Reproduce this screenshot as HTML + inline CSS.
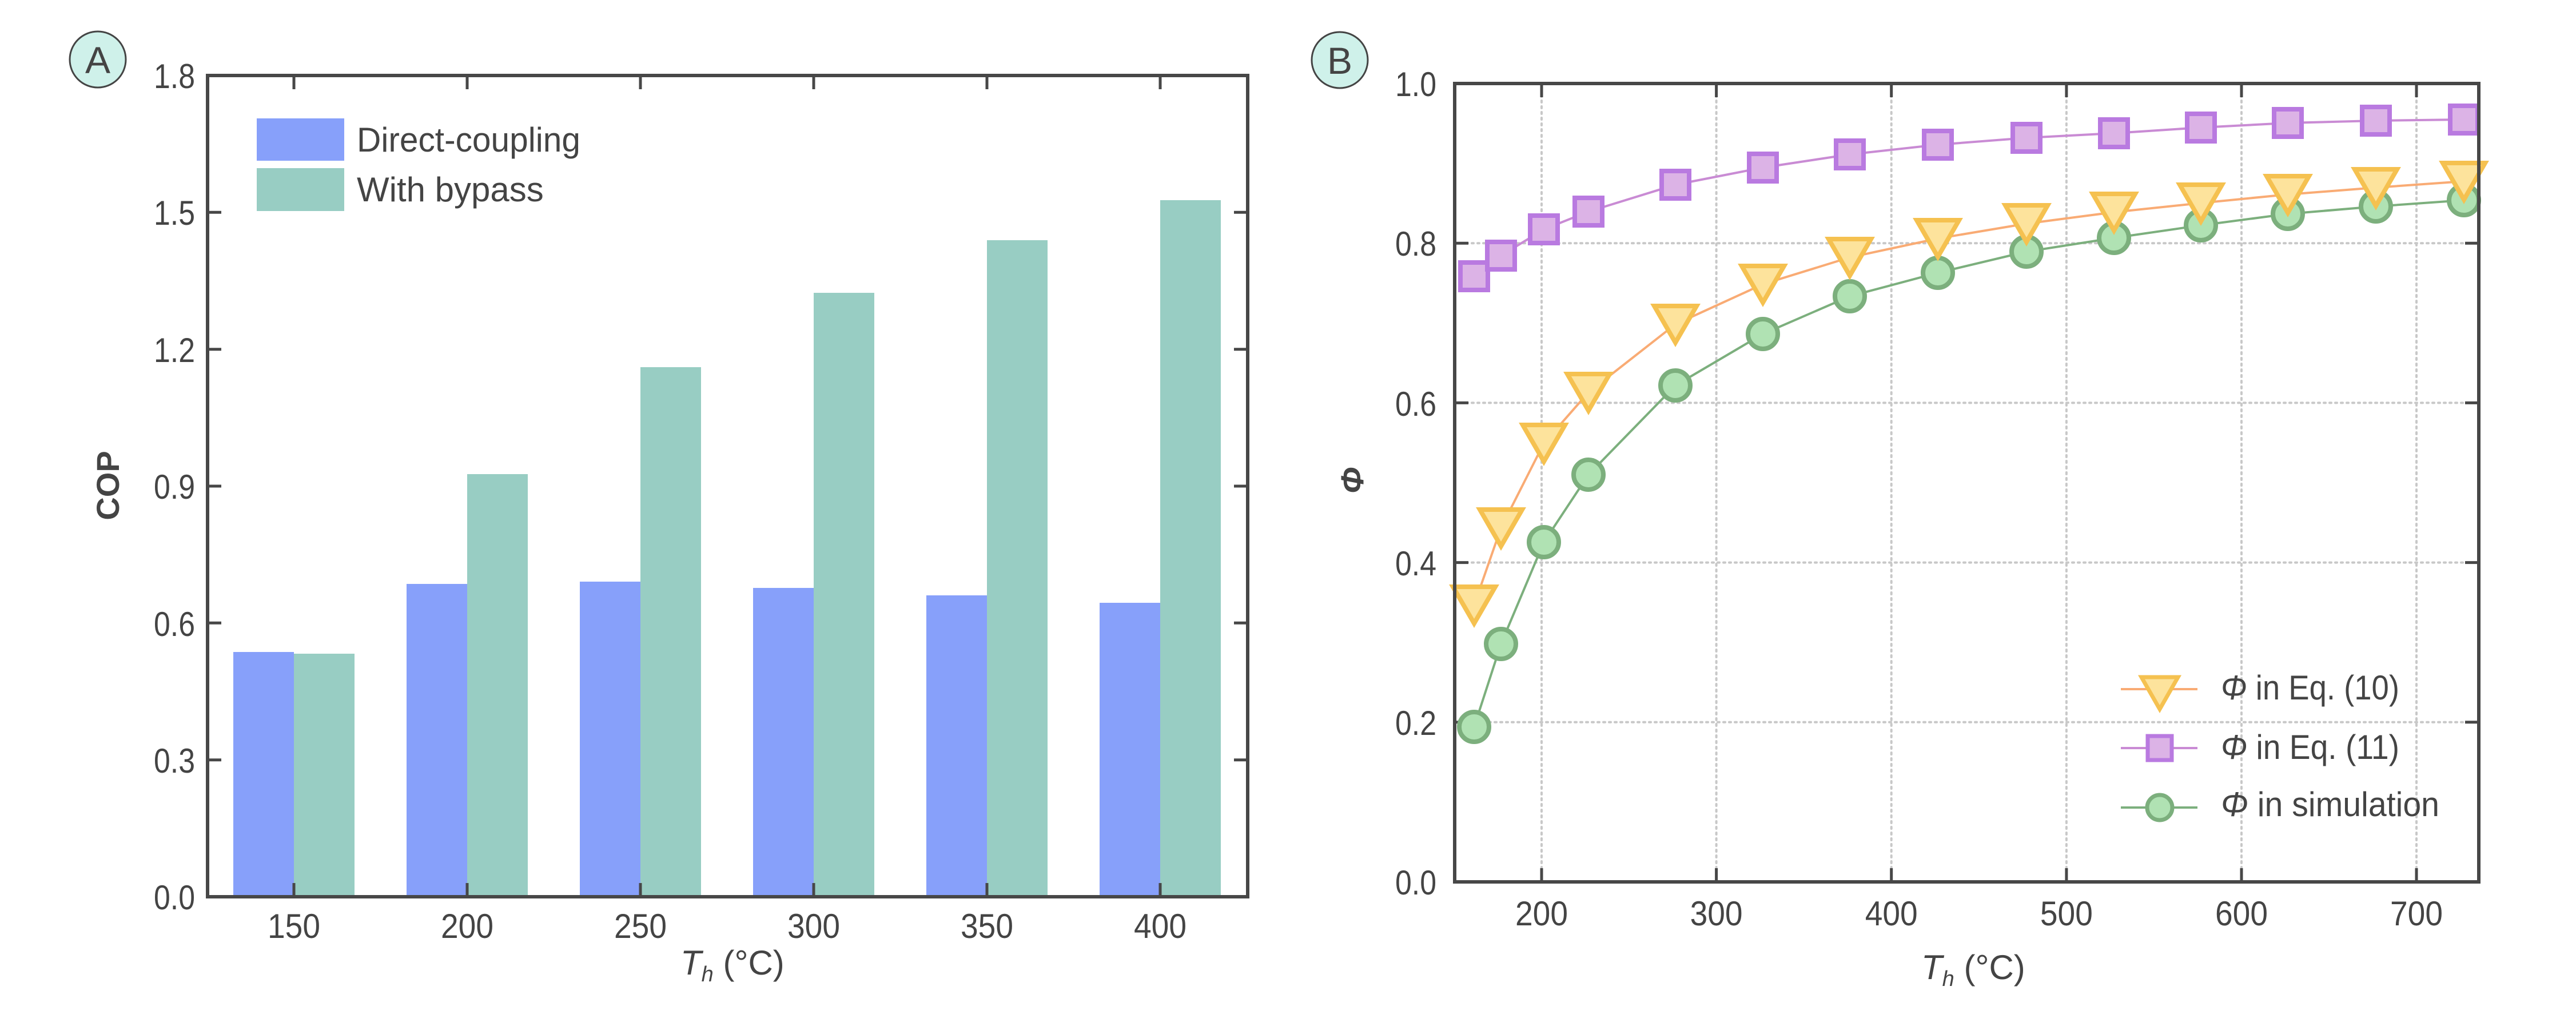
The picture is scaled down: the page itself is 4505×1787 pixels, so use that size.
<!DOCTYPE html>
<html><head><meta charset="utf-8"><style>
html,body{margin:0;padding:0;background:#fff;}
svg{display:block;}
text{font-family:"Liberation Sans",sans-serif;fill:#444;}
</style></head><body>
<svg width="4505" height="1787" viewBox="0 0 4505 1787" xmlns="http://www.w3.org/2000/svg">
<rect width="4505" height="1787" fill="#fff"/>
<!-- Panel A -->
<circle cx="171" cy="104" r="49" fill="#cff1ea" stroke="#444" stroke-width="3"/>
<text x="171" y="128" font-size="66" text-anchor="middle">A</text>
<g>
<rect x="408" y="1140" width="106" height="428" fill="#87a0fa"/>
<rect x="514" y="1143" width="106" height="425" fill="#98cdc3"/>
<rect x="711" y="1021" width="106" height="547" fill="#87a0fa"/>
<rect x="817" y="829" width="106" height="739" fill="#98cdc3"/>
<rect x="1014" y="1017" width="106" height="551" fill="#87a0fa"/>
<rect x="1120" y="642" width="106" height="926" fill="#98cdc3"/>
<rect x="1317" y="1028" width="106" height="540" fill="#87a0fa"/>
<rect x="1423" y="512" width="106" height="1056" fill="#98cdc3"/>
<rect x="1620" y="1041" width="106" height="527" fill="#87a0fa"/>
<rect x="1726" y="420" width="106" height="1148" fill="#98cdc3"/>
<rect x="1923" y="1054" width="106" height="514" fill="#87a0fa"/>
<rect x="2029" y="350" width="106" height="1218" fill="#98cdc3"/>
</g>
<g stroke="#474747" stroke-width="5">
<path d="M514 1568v-24M817 1568v-24M1120 1568v-24M1423 1568v-24M1726 1568v-24M2029 1568v-24"/>
<path d="M514 132v24M817 132v24M1120 132v24M1423 132v24M1726 132v24M2029 132v24"/>
<path d="M363 1328.7h24M363 1089.3h24M363 850h24M363 610.7h24M363 371.3h24"/>
<path d="M2182 1328.7h-24M2182 1089.3h-24M2182 850h-24M2182 610.7h-24M2182 371.3h-24"/>
</g>
<rect x="363" y="132" width="1819" height="1436" fill="none" stroke="#474747" stroke-width="6"/>
<g font-size="60" text-anchor="end">
<text x="341" y="1590" textLength="72" lengthAdjust="spacingAndGlyphs">0.0</text>
<text x="341" y="1351" textLength="72" lengthAdjust="spacingAndGlyphs">0.3</text>
<text x="341" y="1112" textLength="72" lengthAdjust="spacingAndGlyphs">0.6</text>
<text x="341" y="872" textLength="72" lengthAdjust="spacingAndGlyphs">0.9</text>
<text x="341" y="633" textLength="72" lengthAdjust="spacingAndGlyphs">1.2</text>
<text x="341" y="393" textLength="72" lengthAdjust="spacingAndGlyphs">1.5</text>
<text x="341" y="154" textLength="72" lengthAdjust="spacingAndGlyphs">1.8</text>
</g>
<g font-size="60" text-anchor="middle">
<text x="514" y="1640" textLength="92" lengthAdjust="spacingAndGlyphs">150</text>
<text x="817" y="1640" textLength="92" lengthAdjust="spacingAndGlyphs">200</text>
<text x="1120" y="1640" textLength="92" lengthAdjust="spacingAndGlyphs">250</text>
<text x="1423" y="1640" textLength="92" lengthAdjust="spacingAndGlyphs">300</text>
<text x="1726" y="1640" textLength="92" lengthAdjust="spacingAndGlyphs">350</text>
<text x="2029" y="1640" textLength="92" lengthAdjust="spacingAndGlyphs">400</text>
</g>
<text x="1190" y="1704" font-size="60"><tspan font-style="italic">T</tspan><tspan font-style="italic" font-size="38" dy="12">h</tspan><tspan dy="-12"> (°C)</tspan></text>
<text transform="translate(208,849) rotate(-90)" font-size="56" font-weight="bold" text-anchor="middle">COP</text>
<rect x="449" y="207" width="153" height="74" fill="#87a0fa"/>
<rect x="449" y="294" width="153" height="75" fill="#98cdc3"/>
<text x="624" y="265" font-size="60" textLength="391" lengthAdjust="spacingAndGlyphs">Direct-coupling</text>
<text x="624" y="352" font-size="60">With bypass</text>

<!-- Panel B -->
<circle cx="2343" cy="105" r="49" fill="#cff1ea" stroke="#444" stroke-width="3"/>
<text x="2343" y="129" font-size="66" text-anchor="middle">B</text>
<g stroke="#c8c8c8" stroke-width="4" stroke-dasharray="3 7" stroke-linecap="round" fill="none">
<path d="M2696 146V1542M3001.6 146V1542M3307.7 146V1542M3613.9 146V1542M3920 146V1542M4226 146V1542"/>
<path d="M2544 1262.8H4335M2544 983.6H4335M2544 704.4H4335M2544 425.2H4335"/>
</g>
<g stroke="#474747" stroke-width="5">
<path d="M2696 1542v-24M3001.6 1542v-24M3307.7 1542v-24M3613.9 1542v-24M3920 1542v-24M4226 1542v-24"/>
<path d="M2696 146v24M3001.6 146v24M3307.7 146v24M3613.9 146v24M3920 146v24M4226 146v24"/>
<path d="M2544 1262.8h24M2544 983.6h24M2544 704.4h24M2544 425.2h24"/>
<path d="M4335 1262.8h-24M4335 983.6h-24M4335 704.4h-24M4335 425.2h-24"/>
</g>
<polyline fill="none" stroke="#c98bd4" stroke-width="4" points="2578,483 2625,447 2700,401 2778,370 2930,323 3083,293 3235,270 3389,253 3544,241 3697,233 3849,223 4001,215 4155,211 4309,209"/>
<polyline fill="none" stroke="#f9ab74" stroke-width="4" points="2578,1058 2625,923 2700,775 2778,686 2930,567 3083,497 3235,450 3389,417 3544,391 3697,371 3849,355 4001,340 4155,328 4309,317"/>
<polyline fill="none" stroke="#7caf7d" stroke-width="4" points="2578,1271 2625,1126 2700,948 2778,830 2930,674 3083,584 3235,518 3389,477 3544,440 3697,416 3849,394 4001,374 4155,361 4309,350"/>
<g fill="#dcb3e6" stroke="#b97ae0" stroke-width="8">
<rect x="2554" y="459" width="48" height="48"/><rect x="2601" y="423" width="48" height="48"/><rect x="2676" y="377" width="48" height="48"/><rect x="2754" y="346" width="48" height="48"/><rect x="2906" y="299" width="48" height="48"/><rect x="3059" y="269" width="48" height="48"/><rect x="3211" y="246" width="48" height="48"/><rect x="3365" y="229" width="48" height="48"/><rect x="3520" y="217" width="48" height="48"/><rect x="3673" y="209" width="48" height="48"/><rect x="3825" y="199" width="48" height="48"/><rect x="3977" y="191" width="48" height="48"/><rect x="4131" y="187" width="48" height="48"/><rect x="4285" y="185" width="48" height="48"/>
</g>
<g fill="#b0e2b3" stroke="#7caf7d" stroke-width="8">
<circle cx="2578" cy="1271" r="26"/><circle cx="2625" cy="1126" r="26"/><circle cx="2700" cy="948" r="26"/><circle cx="2778" cy="830" r="26"/><circle cx="2930" cy="674" r="26"/><circle cx="3083" cy="584" r="26"/><circle cx="3235" cy="518" r="26"/><circle cx="3389" cy="477" r="26"/><circle cx="3544" cy="440" r="26"/><circle cx="3697" cy="416" r="26"/><circle cx="3849" cy="394" r="26"/><circle cx="4001" cy="374" r="26"/><circle cx="4155" cy="361" r="26"/><circle cx="4309" cy="350" r="26"/>
</g>
<g fill="#fde39c" stroke="#f5c150" stroke-width="8">
<path d="M2541 1026h74l-37 64z"/><path d="M2588 891h74l-37 64z"/><path d="M2663 743h74l-37 64z"/><path d="M2741 654h74l-37 64z"/><path d="M2893 535h74l-37 64z"/><path d="M3046 465h74l-37 64z"/><path d="M3198 418h74l-37 64z"/><path d="M3352 385h74l-37 64z"/><path d="M3507 359h74l-37 64z"/><path d="M3660 339h74l-37 64z"/><path d="M3812 323h74l-37 64z"/><path d="M3964 308h74l-37 64z"/><path d="M4118 296h74l-37 64z"/><path d="M4272 285h74l-37 64z"/>
</g>
<rect x="2544" y="146" width="1791" height="1396" fill="none" stroke="#474747" stroke-width="6"/>
<g font-size="60" text-anchor="end">
<text x="2512" y="1564" textLength="72" lengthAdjust="spacingAndGlyphs">0.0</text>
<text x="2512" y="1285" textLength="72" lengthAdjust="spacingAndGlyphs">0.2</text>
<text x="2512" y="1006" textLength="72" lengthAdjust="spacingAndGlyphs">0.4</text>
<text x="2512" y="727" textLength="72" lengthAdjust="spacingAndGlyphs">0.6</text>
<text x="2512" y="447" textLength="72" lengthAdjust="spacingAndGlyphs">0.8</text>
<text x="2512" y="168" textLength="72" lengthAdjust="spacingAndGlyphs">1.0</text>
</g>
<g font-size="60" text-anchor="middle">
<text x="2696" y="1618" textLength="92" lengthAdjust="spacingAndGlyphs">200</text>
<text x="3001.6" y="1618" textLength="92" lengthAdjust="spacingAndGlyphs">300</text>
<text x="3307.7" y="1618" textLength="92" lengthAdjust="spacingAndGlyphs">400</text>
<text x="3613.9" y="1618" textLength="92" lengthAdjust="spacingAndGlyphs">500</text>
<text x="3920" y="1618" textLength="92" lengthAdjust="spacingAndGlyphs">600</text>
<text x="4226" y="1618" textLength="92" lengthAdjust="spacingAndGlyphs">700</text>
</g>
<text x="3360" y="1712" font-size="60"><tspan font-style="italic">T</tspan><tspan font-style="italic" font-size="38" dy="12">h</tspan><tspan dy="-12"> (°C)</tspan></text>
<text transform="translate(2384,840) rotate(-90)" font-size="56" font-weight="bold" font-style="italic" text-anchor="middle">Φ</text>
<path d="M3709 1205h134" stroke="#f9ab74" stroke-width="4"/>
<path d="M3745 1184h64l-32 56z" fill="#fde39c" stroke="#f5c150" stroke-width="7"/>
<path d="M3709 1308h134" stroke="#c98bd4" stroke-width="4"/>
<rect x="3756" y="1287" width="42" height="42" fill="#dcb3e6" stroke="#b97ae0" stroke-width="7"/>
<path d="M3709 1412h134" stroke="#7caf7d" stroke-width="4"/>
<circle cx="3777" cy="1412" r="22" fill="#b0e2b3" stroke="#7caf7d" stroke-width="7"/>
<g font-size="60">
<text x="3884" y="1223" textLength="312" lengthAdjust="spacingAndGlyphs"><tspan font-style="italic">Φ</tspan> in Eq. (10)</text>
<text x="3884" y="1327" textLength="312" lengthAdjust="spacingAndGlyphs"><tspan font-style="italic">Φ</tspan> in Eq. (11)</text>
<text x="3884" y="1427" textLength="382" lengthAdjust="spacingAndGlyphs"><tspan font-style="italic">Φ</tspan> in simulation</text>
</g>
</svg>
</body></html>
